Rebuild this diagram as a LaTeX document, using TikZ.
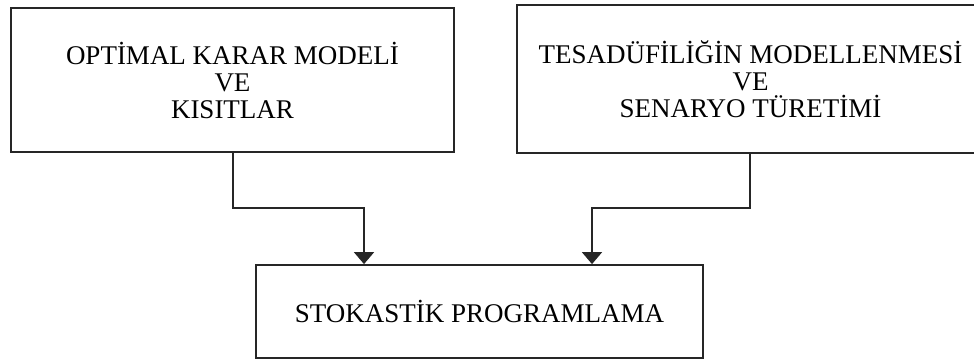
\documentclass[tikz,border=0pt]{standalone}
\usepackage{fontspec}
\setmainfont{Liberation Serif}
\usetikzlibrary{arrows.meta}
\begin{document}
\begin{tikzpicture}[x=1pt,y=-1pt,
  box/.style={draw=black!85,line width=1.8pt,rectangle,align=center,
    font=\fontsize{27}{27}\selectfont,inner sep=0pt},
  link/.style={draw=black!85,line width=1.8pt,
    -{Triangle[width=20pt,length=12pt]}}]
\useasboundingbox (0,0) rectangle (974,360);
% the three blocks
\node[box,minimum width=443pt,minimum height=144pt] (L) at (232.5,80)
  {OPTİMAL KARAR MODELİ\\VE\\KISITLAR};
\node[box,minimum width=467pt,minimum height=148pt] (R) at (750.5,79)
  {TESADÜFİLİĞİN MODELLENMESİ\\VE\\SENARYO TÜRETİMİ};
\node[box,minimum width=447pt,minimum height=93pt] (B) at (479.5,311.5)
  {STOKASTİK PROGRAMLAMA};
% elbow connectors
\coordinate (la) at (233,208);
\coordinate (lb) at (364,208);
\coordinate (ra) at (750,208);
\coordinate (rb) at (592,208);
\draw[link] (L.south -| la) -- (la) -- (lb) -- (B.north -| lb);
\draw[link] (R.south -| ra) -- (ra) -- (rb) -- (B.north -| rb);
\end{tikzpicture}
\end{document}
